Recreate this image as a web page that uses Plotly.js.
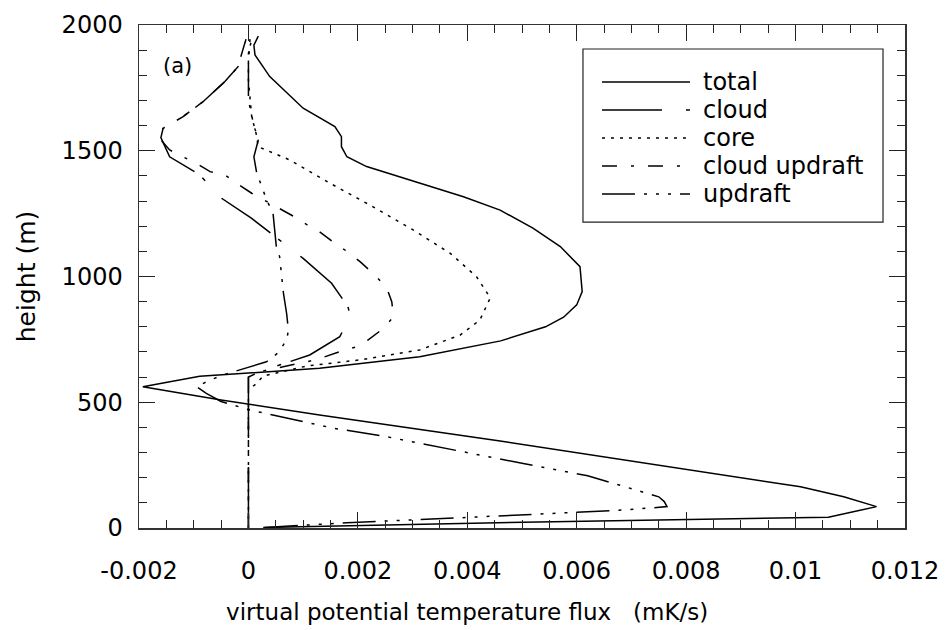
<!DOCTYPE html>
<html>
<head>
<meta charset="utf-8">
<script src="https://cdn.plot.ly/plotly-3.0.1.min.js"></script>
<style>html,body{margin:0;padding:0;background:#fff}#chart{width:948px;height:630px}</style>
</head>
<body>
<div id="chart"></div>
<script>
// series names
const seriesNames = ["total", "cloud", "core", "cloud updraft", "updraft"];

// total flux (mK/s) vs height (m)
const totalFlux = [0.00027, 0.0053, 0.0106, 0.01148, 0.01088, 0.01009, 0.0046, 0.0013, -0.0005, -0.00193,
  -0.00089, 0.00015, 0.0013, 0.00313, 0.00461, 0.00543, 0.00576, 0.0060, 0.0061, 0.00606, 0.0057, 0.0052,
  0.0046, 0.00393, 0.00216, 0.0018, 0.0017, 0.0017, 0.00158, 0.0010, 0.00039, 0.00012, 0.0001, 0.00018];
const totalHeight = [2, 24, 43, 85, 124, 164, 346, 449, 509, 562,
  603, 619, 635, 681, 744, 800, 838, 887, 940, 1039, 1119, 1192,
  1264, 1317, 1437, 1476, 1516, 1556, 1596, 1669, 1795, 1881, 1920, 1956];

// cloud flux
const cloudFlux = [0, 0, 0.00021, 0.00112, 0.00167, 0.00186, 0.00182, 0.00152, 0.0010, 0.00006, -0.00049,
  -0.00089, -0.00144, -0.0016, -0.00156, -0.0012, -0.00083, -0.00043, -0.00019, -0.00013, -0.00004];
const cloudHeight = [0, 600, 622, 688, 761, 840, 880, 973, 1072, 1231, 1311,
  1404, 1476, 1552, 1589, 1635, 1695, 1775, 1834, 1881, 1947];

// core flux
const coreFlux = [0, 0, 0.00015, 0.00027, 0.00106, 0.0021, 0.00313, 0.00362, 0.00387, 0.00423, 0.00442,
  0.00417, 0.00369, 0.00301, 0.00222, 0.00149, 0.00076, 0.00018, 0.00014, 0.00006, 0.0, 0.0, 0.00007];
const coreHeight = [0, 549, 575, 604, 644, 670, 708, 748, 767, 827, 915,
  999, 1092, 1185, 1284, 1371, 1463, 1516, 1569, 1635, 1781, 1887, 1953];

// cloud updraft flux
const cloudUpFlux = [0, 0, 0.00021, 0.00122, 0.00167, 0.00198, 0.00219, 0.00247, 0.00265, 0.00262, 0.00253,
  0.00231, 0.00204, 0.0018, 0.00158, 0.0013, 0.00106, 0.00082, 0.00027, 0.00006, -0.00022, -0.00043,
  -0.0007, -0.00095, -0.0012, -0.00144, -0.00165, -0.00156, -0.0012, -0.00083, -0.00043, -0.00019,
  -0.00013, -0.00004];
const cloudUpHeight = [0, 600, 622, 668, 701, 721, 748, 794, 840, 900, 953,
  1006, 1059, 1100, 1132, 1178, 1207, 1240, 1306, 1331, 1371, 1404,
  1417, 1450, 1476, 1503, 1556, 1589, 1635, 1695, 1775, 1834,
  1881, 1947];

// updraft flux
const updraftFlux = [0.0003, 0.0018, 0.0039, 0.0053, 0.0069, 0.00765, 0.0076, 0.0075, 0.0069, 0.0062,
  0.0050, 0.0039, 0.0025, 0.00155, 0.0003, 0.00003, -0.0005, -0.00077, -0.00095, -0.0007, -0.00047,
  0.00015, 0.00033, 0.00054, 0.0007, 0.00073, 0.0007, 0.00064, 0.00057, 0.00051, 0.00045, 0.00033,
  0.00015, 0.0001, 0.00018, 0.0001, 0.0, 0.0, 0.00003];
const updraftHeight = [2, 21, 41, 56, 72, 85, 105, 124, 164, 208,
  257, 304, 364, 397, 456, 469, 503, 535, 562, 588, 608,
  648, 661, 696, 748, 787, 850, 934, 1079, 1118, 1251, 1306,
  1413, 1476, 1543, 1600, 1700, 1850, 1950];

// axis ticks
const xTickVals = [-0.002, 0, 0.002, 0.004, 0.006, 0.008, 0.01, 0.012];
const xTickText = ["-0.002", "0", "0.002", "0.004", "0.006", "0.008", "0.01", "0.012"];
const yTickVals = [0, 500, 1000, 1500, 2000];
const yTickText = ["0", "500", "1000", "1500", "2000"];

const dashes = ["solid", "60px,24px,4px,10px", "3px,6px", "15px,14px,3px,14px", "33px,9px,3px,9px,3px,9px,3px,9px"];
const xs = [totalFlux, cloudFlux, coreFlux, cloudUpFlux, updraftFlux];
const ys = [totalHeight, cloudHeight, coreHeight, cloudUpHeight, updraftHeight];

const FONT = "DejaVu Sans, Verdana, sans-serif";

const traces = seriesNames.map((n, i) => ({
  type: "scatter", mode: "lines", name: n,
  x: xs[i], y: ys[i],
  line: {color: "#000", width: 1.5, dash: dashes[i]},
  showlegend: false, hoverinfo: "skip"
}));

// manual legend (box, samples, labels) in paper coordinates
const legRowsY = [0.8867, 0.831, 0.7753, 0.7197, 0.664];
const shapes = [{type: "rect", xref: "paper", yref: "paper", x0: 0.5796, x1: 0.9713, y0: 0.6083, y1: 0.9523,
  line: {color: "#222", width: 1.2}, fillcolor: "rgba(0,0,0,0)"}];
const annotations = [{xref: "paper", yref: "paper", x: 0.0509, y: 0.9185, xanchor: "center", yanchor: "middle",
  text: "(a)", showarrow: false, font: {family: FONT, size: 21, color: "#000"}}];
seriesNames.forEach((n, i) => {
  shapes.push({type: "line", xref: "paper", yref: "paper", x0: 0.6044, x1: 0.7193, y0: legRowsY[i], y1: legRowsY[i],
    line: {color: "#000", width: 1.3, dash: dashes[i]}});
  annotations.push({xref: "paper", yref: "paper", x: 0.7337, y: legRowsY[i], xanchor: "left", yanchor: "middle",
    text: n, showarrow: false, font: {family: FONT, size: 24, color: "#000"}});
});

const pad = "\u00a0".repeat(15) + "\u200b";

const layout = {
  width: 948, height: 630,
  margin: {l: 139, r: 43, t: 25, b: 102},
  paper_bgcolor: "#fff", plot_bgcolor: "#fff",
  font: {family: FONT, color: "#000"},
  showlegend: false,
  xaxis: {
    range: [-0.002, 0.012], tickvals: xTickVals, ticktext: xTickText,
    ticks: "inside", ticklen: 16, tickwidth: 1.2, tickcolor: "#222",
    minor: {dtick: 0.0005, ticks: "inside", ticklen: 8, tickwidth: 1, tickcolor: "#222", showgrid: false},
    showline: true, linecolor: "#333", linewidth: 1.5, mirror: "allticks",
    showgrid: false, zeroline: false,
    tickfont: {family: FONT, size: 24, color: "#000"}, ticklabelstandoff: 21,
    title: {text: "virtual potential temperature flux   (mK/s)" + pad, font: {family: FONT, size: 23, color: "#000"}, standoff: 19},
    automargin: false
  },
  yaxis: {
    range: [0, 2000], tickvals: yTickVals, ticktext: yTickText,
    ticks: "inside", ticklen: 16, tickwidth: 1.2, tickcolor: "#222",
    minor: {dtick: 100, ticks: "inside", ticklen: 8, tickwidth: 1, tickcolor: "#222", showgrid: false},
    showline: true, linecolor: "#333", linewidth: 1.5, mirror: "allticks",
    showgrid: false, zeroline: false,
    tickfont: {family: FONT, size: 24, color: "#000"}, ticklabelstandoff: 10,
    title: {text: "height (m)", font: {family: FONT, size: 25, color: "#000"}, standoff: 19},
    automargin: false
  },
  shapes: shapes,
  annotations: annotations
};

Plotly.newPlot("chart", traces, layout, {displayModeBar: false, staticPlot: true});
</script>
</body>
</html>
